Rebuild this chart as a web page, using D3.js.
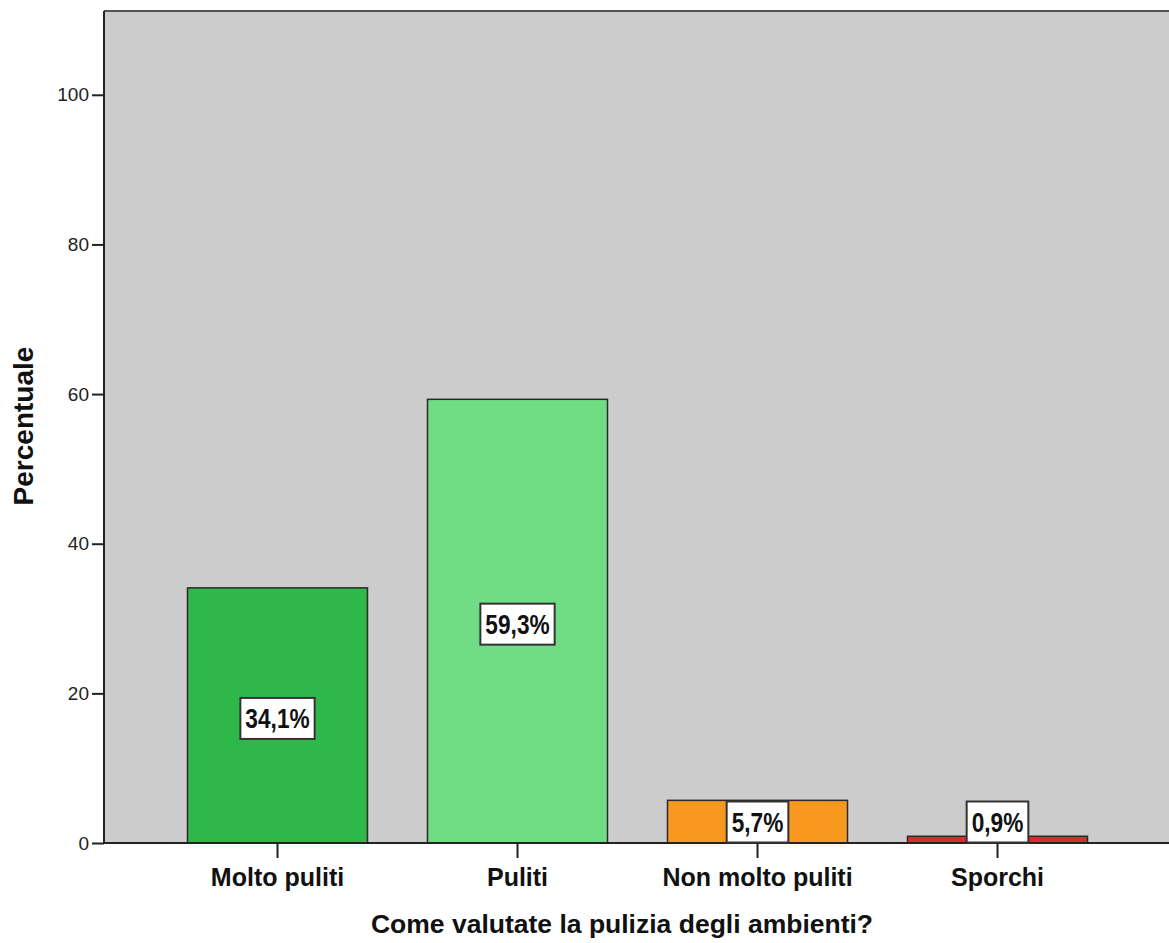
<!DOCTYPE html>
<html>
<head>
<meta charset="utf-8">
<script src="https://cdn.jsdelivr.net/npm/d3@7"></script>
<style>
  html, body { margin: 0; padding: 0; background: #fff; }
  svg { display: block; }
  text { font-family: Arial, "Liberation Sans", sans-serif; }
</style>
</head>
<body>
<svg id="chart" width="1169" height="943"></svg>
<script>
// Survey results: cleanliness rating of the rooms
const categories = ["Molto puliti", "Puliti", "Non molto puliti", "Sporchi"];
const percentages = [34.1, 59.3, 5.7, 0.9];
const valueLabels = ["34,1%", "59,3%", "5,7%", "0,9%"];
const barColors = ["#2eb84a", "#70dd84", "#f7991f", "#dd2a2e"];
const yTicks = [0, 20, 40, 60, 80, 100];
const yTitle = "Percentuale";
const xTitle = "Come valutate la pulizia degli ambienti?";

const svg = d3.select("#chart");
const W = 1169, H = 943;
const plot = { left: 104, top: 11, right: 1172, bottom: 843 };

const y = d3.scaleLinear().domain([0, 111.2]).range([plot.bottom, plot.top]);
const x = d3.scaleBand()
  .domain(categories)
  .range([157.5, 1117.5])
  .paddingInner(0.25)
  .paddingOuter(0.125);

// plot background
svg.append("rect")
  .attr("x", plot.left).attr("y", plot.top)
  .attr("width", plot.right - plot.left).attr("height", plot.bottom - plot.top)
  .attr("fill", "#cccccc");

// top frame line
svg.append("line")
  .attr("x1", plot.left).attr("x2", plot.right)
  .attr("y1", plot.top).attr("y2", plot.top)
  .attr("stroke", "#555").attr("stroke-width", 2);

// bars
svg.append("g").selectAll("rect")
  .data(categories)
  .join("rect")
  .attr("x", d => x(d))
  .attr("y", (d, i) => y(percentages[i]))
  .attr("width", x.bandwidth())
  .attr("height", (d, i) => y(0) - y(percentages[i]))
  .attr("fill", (d, i) => barColors[i])
  .attr("stroke", "#2a2a2a")
  .attr("stroke-width", 1.5);

// y axis
const yAxis = d3.axisLeft(y).tickValues(yTicks).tickSize(12).tickPadding(3).tickFormat(d3.format("d"));
const gy = svg.append("g").attr("transform", `translate(${plot.left},0)`).call(yAxis);
gy.select(".domain").remove();
gy.selectAll(".tick line").attr("stroke", "#222").attr("stroke-width", 2);
gy.selectAll(".tick text")
  .attr("font-size", 19).attr("fill", "#222")
  .style("font-family", "Arial, 'Liberation Sans', sans-serif");
svg.append("line")
  .attr("x1", plot.left).attr("x2", plot.left)
  .attr("y1", plot.top).attr("y2", plot.bottom)
  .attr("stroke", "#222").attr("stroke-width", 2);

// x axis
const xAxis = d3.axisBottom(x).tickSize(15).tickPadding(0).tickSizeOuter(0);
const gx = svg.append("g").attr("transform", `translate(0,${plot.bottom})`).call(xAxis);
gx.select(".domain").remove();
gx.selectAll(".tick line").attr("stroke", "#222").attr("stroke-width", 2);
gx.selectAll(".tick text")
  .attr("y", 43).attr("dy", 0)
  .attr("font-size", 25).attr("font-weight", "bold").attr("fill", "#111")
  .style("font-family", "Arial, 'Liberation Sans', sans-serif");
svg.append("line")
  .attr("x1", plot.left).attr("x2", plot.right)
  .attr("y1", plot.bottom).attr("y2", plot.bottom)
  .attr("stroke", "#222").attr("stroke-width", 2);

// value labels in boxes
const labels = svg.append("g").selectAll("g")
  .data(categories)
  .join("g")
  .attr("transform", (d, i) => {
    const cx = x(d) + x.bandwidth() / 2;
    const mid = (y(percentages[i]) + y(0)) / 2 + 3;
    const cy = Math.min(mid, plot.bottom - 21);
    return `translate(${cx},${cy})`;
  });
labels.each(function(d, i) {
  const g = d3.select(this);
  const t = g.append("text")
    .attr("text-anchor", "middle")
    .attr("dy", "0.36em")
    .attr("font-size", 27)
    .attr("font-weight", "bold")
    .attr("fill", "#111")
    .attr("transform", "scale(0.84,1)")
    .text(valueLabels[i]);
  const w = t.node().getComputedTextLength() * 0.84 + 10;
  g.insert("rect", "text")
    .attr("x", -w / 2).attr("y", -20.5)
    .attr("width", w).attr("height", 41)
    .attr("fill", "#fff")
    .attr("stroke", "#333").attr("stroke-width", 2);
});

// axis titles
svg.append("text")
  .attr("transform", `translate(33,426) rotate(-90)`)
  .attr("text-anchor", "middle")
  .attr("font-size", 28).attr("font-weight", "bold").attr("fill", "#111")
  .text(yTitle);

svg.append("text")
  .attr("x", 622).attr("y", 933)
  .attr("text-anchor", "middle")
  .attr("font-size", 26.5).attr("font-weight", "bold").attr("fill", "#111")
  .text(xTitle);
</script>
</body>
</html>
